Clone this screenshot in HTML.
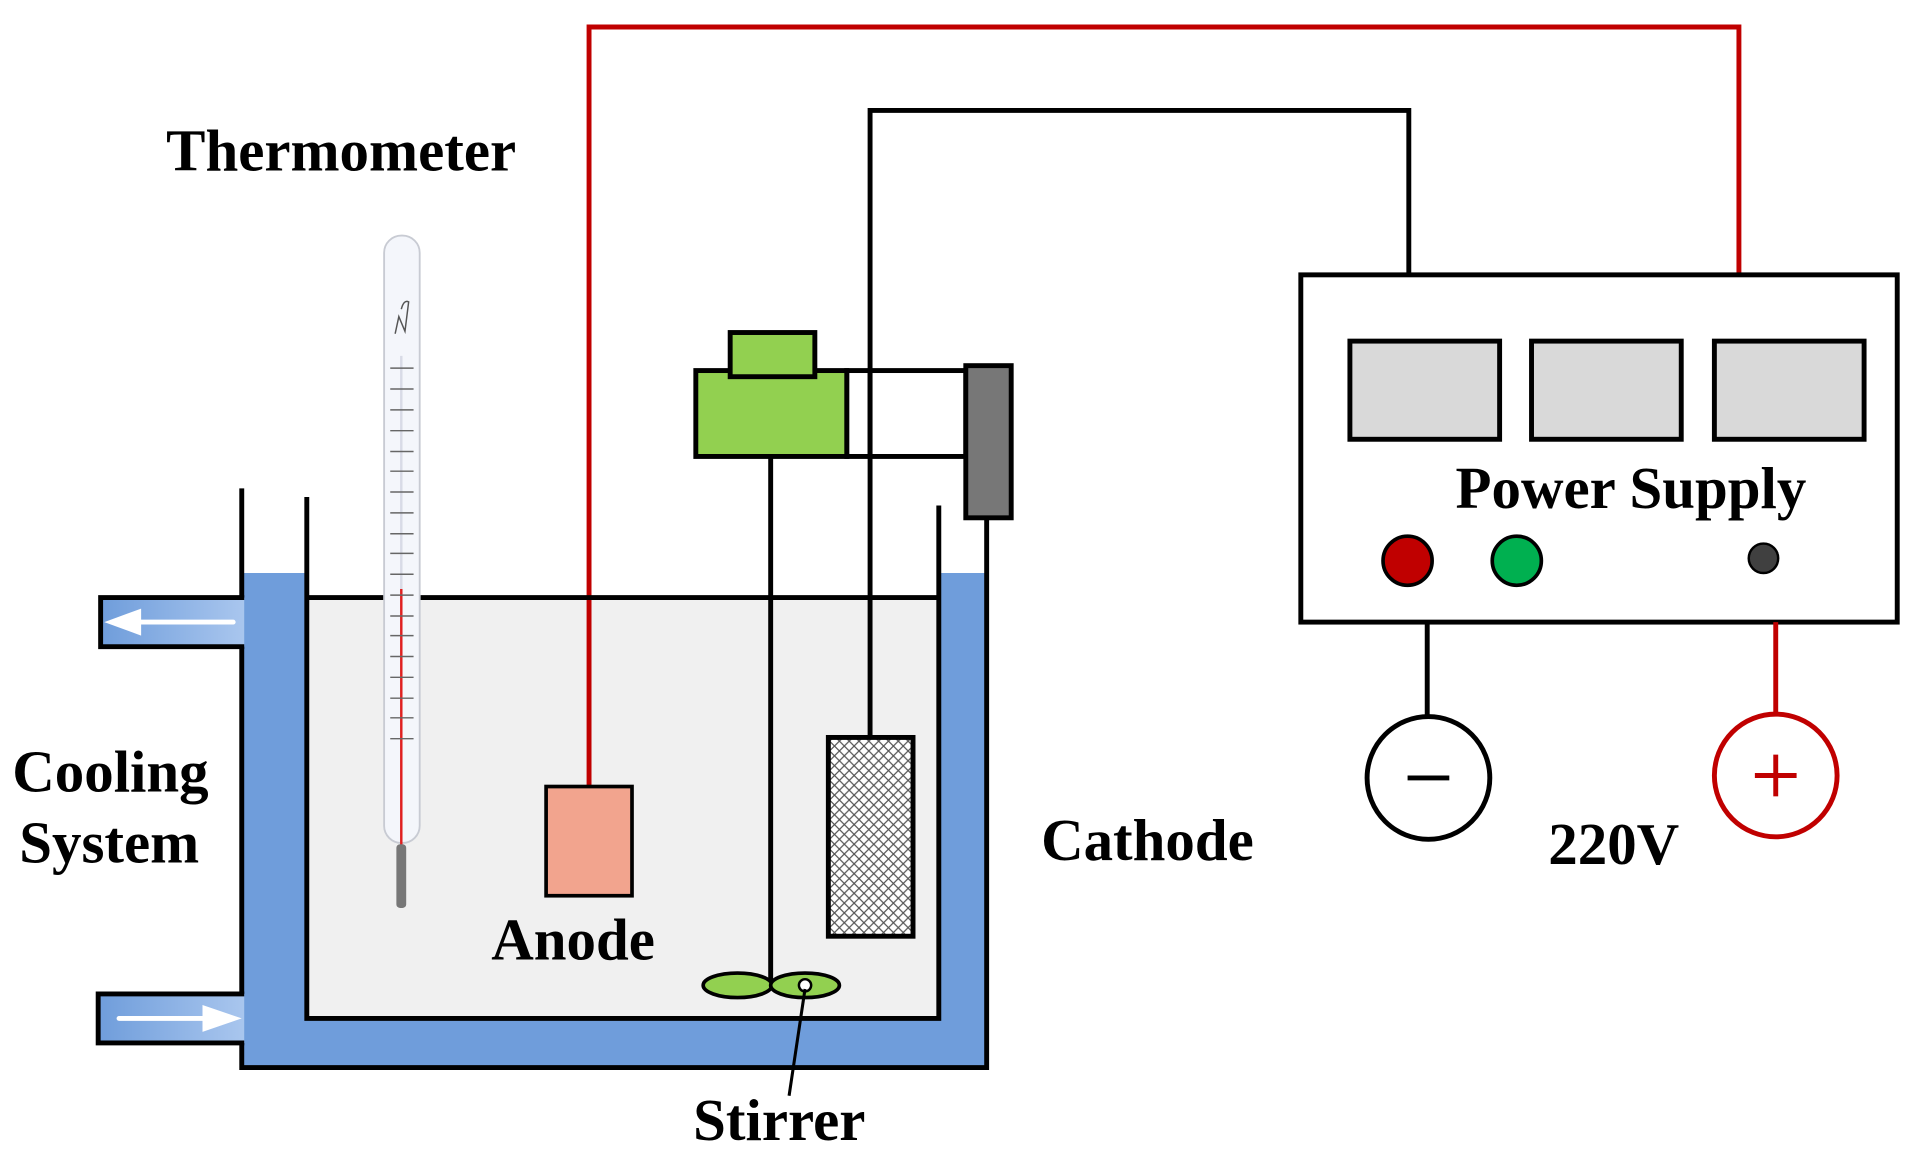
<!DOCTYPE html>
<html><head><meta charset="utf-8"><style>
html,body{margin:0;padding:0;background:#fff;width:1923px;height:1162px;overflow:hidden}
svg{display:block}
text{font-family:"Liberation Serif",serif;font-weight:bold;fill:#000}
</style></head><body>
<svg width="1923" height="1162" viewBox="0 0 1567 947" preserveAspectRatio="none">
<defs>
<linearGradient id="pg" x1="0" x2="1"><stop offset="0" stop-color="#6f9ddb"/><stop offset="1" stop-color="#a9c6ee"/></linearGradient>
<pattern id="hatch" width="8" height="8" patternUnits="userSpaceOnUse">
<rect width="8" height="8" fill="#fff"/>
<path d="M0 0L8 8M8 0L0 8" stroke="#555" stroke-width="1"/>
</pattern>
</defs>
<path d="M197,467 L250,467 L250,830 L765,830 L765,467 L804,467 L804,870 L197,870 Z" fill="#6f9ddb"/>
<rect x="250" y="487" width="515" height="343" fill="#f0f0f0"/>
<polyline points="480,641 480,22 1417,22 1417,224" fill="none" stroke="#c00000" stroke-width="4"/>
<polyline points="709,601 709,90 1148,90 1148,224" fill="none" stroke="#000" stroke-width="4"/>
<rect x="82" y="487" width="117" height="40" fill="url(#pg)"/>
<rect x="80" y="810" width="119" height="40" fill="url(#pg)"/>
<polyline points="199,487 82,487 82,527 199,527" fill="none" stroke="#000" stroke-width="4"/>
<polyline points="199,810 80,810 80,850 199,850" fill="none" stroke="#000" stroke-width="4"/>
<line x1="190" y1="507" x2="110" y2="507" stroke="#fff" stroke-width="4" stroke-linecap="round"/>
<polygon points="85,507 115,496 115,518" fill="#fff"/>
<line x1="97" y1="830" x2="170" y2="830" stroke="#fff" stroke-width="4" stroke-linecap="round"/>
<polygon points="197,830 165,819 165,841" fill="#fff"/>
<polyline points="197,398 197,487" fill="none" stroke="#000" stroke-width="4"/>
<polyline points="197,527 197,810" fill="none" stroke="#000" stroke-width="4"/>
<polyline points="197,850 197,870 804,870 804,422" fill="none" stroke="#000" stroke-width="4"/>
<polyline points="250,405 250,830 765,830 765,412" fill="none" stroke="#000" stroke-width="4"/>
<line x1="250" y1="487" x2="765" y2="487" stroke="#000" stroke-width="4"/>
<rect x="313" y="192" width="29" height="495" rx="14" fill="#f4f6fb" stroke="#c8cbd3" stroke-width="1.5"/>
<line x1="327" y1="290" x2="327" y2="690" stroke="#d8dbe6" stroke-width="2"/>
<line x1="327" y1="480" x2="327" y2="690" stroke="#e02020" stroke-width="2"/>
<rect x="323" y="688" width="8" height="52" rx="3" fill="#777"/>
<g stroke="#666" stroke-width="1.2">
<line x1="318" x2="337" y1="300" y2="300"/><line x1="318" x2="337" y1="317" y2="317"/><line x1="318" x2="337" y1="334" y2="334"/><line x1="318" x2="337" y1="351" y2="351"/><line x1="318" x2="337" y1="368" y2="368"/><line x1="318" x2="337" y1="384" y2="384"/><line x1="318" x2="337" y1="401" y2="401"/><line x1="318" x2="337" y1="418" y2="418"/><line x1="318" x2="337" y1="435" y2="435"/><line x1="318" x2="337" y1="451" y2="451"/><line x1="318" x2="337" y1="468" y2="468"/><line x1="318" x2="337" y1="485" y2="485"/><line x1="318" x2="337" y1="502" y2="502"/><line x1="318" x2="337" y1="518" y2="518"/><line x1="318" x2="337" y1="535" y2="535"/><line x1="318" x2="337" y1="552" y2="552"/><line x1="318" x2="337" y1="569" y2="569"/><line x1="318" x2="337" y1="585" y2="585"/><line x1="318" x2="337" y1="602" y2="602"/>
</g>
<path d="M322,272 L325,258 L330,270 L333,246 Q329,244 327,252" fill="none" stroke="#555" stroke-width="1.2"/>
<rect x="445" y="641" width="70" height="89" fill="#f2a48e" stroke="#000" stroke-width="3"/>
<rect x="675" y="601" width="69" height="162" fill="url(#hatch)" stroke="#000" stroke-width="4"/>
<line x1="628" y1="372" x2="628" y2="800" stroke="#000" stroke-width="4"/>
<ellipse cx="601" cy="803" rx="28" ry="10" fill="#92d050" stroke="#000" stroke-width="3"/>
<ellipse cx="656" cy="803" rx="28" ry="10" fill="#92d050" stroke="#000" stroke-width="3"/>
<circle cx="656" cy="803" r="5" fill="#fff" stroke="#000" stroke-width="2"/>
<line x1="656" y1="806" x2="643" y2="893" stroke="#000" stroke-width="2.5"/>
<rect x="690" y="302" width="97" height="70" fill="none" stroke="#000" stroke-width="4"/>
<rect x="567" y="302" width="123" height="70" fill="#92d050" stroke="#000" stroke-width="4"/>
<rect x="595" y="271" width="69" height="36" fill="#92d050" stroke="#000" stroke-width="4"/>
<line x1="709" y1="300" x2="709" y2="374" stroke="#000" stroke-width="4"/>
<rect x="787" y="298" width="37" height="124" fill="#777" stroke="#000" stroke-width="4"/>
<rect x="1060" y="224" width="486" height="283" fill="#fff" stroke="#000" stroke-width="4"/>
<rect x="1100" y="278" width="122" height="80" fill="#d9d9d9" stroke="#000" stroke-width="4"/>
<rect x="1248" y="278" width="122" height="80" fill="#d9d9d9" stroke="#000" stroke-width="4"/>
<rect x="1397" y="278" width="122" height="80" fill="#d9d9d9" stroke="#000" stroke-width="4"/>
<circle cx="1147" cy="457" r="20" fill="#c00000" stroke="#000" stroke-width="3"/>
<circle cx="1236" cy="457" r="20" fill="#00b050" stroke="#000" stroke-width="3"/>
<circle cx="1437" cy="455" r="12" fill="#404040" stroke="#000" stroke-width="2"/>
<line x1="1163" y1="507" x2="1163" y2="584" stroke="#000" stroke-width="4"/>
<line x1="1447" y1="507" x2="1447" y2="582" stroke="#c00000" stroke-width="4"/>
<circle cx="1164" cy="634" r="50" fill="#fff" stroke="#000" stroke-width="4"/>
<line x1="1147" y1="634" x2="1181" y2="634" stroke="#000" stroke-width="4"/>
<circle cx="1447" cy="632" r="50" fill="#fff" stroke="#c00000" stroke-width="4"/>
<line x1="1430" y1="632" x2="1464" y2="632" stroke="#c00000" stroke-width="4"/>
<line x1="1447" y1="615" x2="1447" y2="649" stroke="#c00000" stroke-width="4"/>
<g font-size="48" text-anchor="middle">
<text x="278" y="139">Thermometer</text>
<text x="1329" y="414">Power Supply</text>
<text x="90" y="645">Cooling</text>
<text x="89" y="703">System</text>
<text x="467" y="782">Anode</text>
<text x="935" y="701">Cathode</text>
<text x="1315" y="704">220V</text>
<text x="635" y="929">Stirrer</text>
</g>
</svg>
</body></html>
